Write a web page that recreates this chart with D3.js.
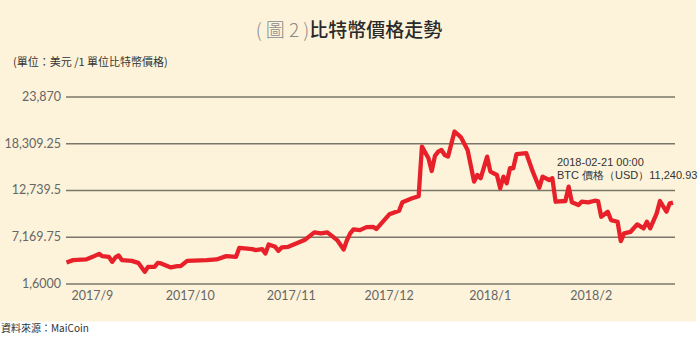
<!DOCTYPE html>
<meta charset='utf-8'>
<html>
  <style>
    body { margin: 0; background: #fff; }
    .title { font-family: "Noto Sans CJK TC", sans-serif; font-size: 19px; }
    .sub { font-family: "Noto Sans CJK TC", sans-serif; font-size: 11px; fill: #333; }
    .axis text { font-family: Lato, sans-serif; font-size: 12.5px; fill: #666; }
    .axis .domain { display: none; }
    .grid line { stroke: #7a776a; stroke-width: 1.6px; }
    .note { font-family: "Liberation Sans", Arial, sans-serif; font-size: 11px; fill: #333; }
  </style>
  <head>
    <script src="https://cdn.jsdelivr.net/npm/d3@7/dist/d3.min.js"></script>
  </head>
  <body>
    <div id="chart"></div>
    <script>
      var dates = ["2017-08-19","2017-08-21","2017-08-25","2017-08-27","2017-08-29","2017-08-30",
        "2017-09-01","2017-09-02","2017-09-03","2017-09-04","2017-09-05","2017-09-08","2017-09-10",
        "2017-09-12","2017-09-13","2017-09-15","2017-09-16","2017-09-17","2017-09-20","2017-09-22",
        "2017-09-23","2017-09-25","2017-10-01","2017-10-04","2017-10-07","2017-10-10","2017-10-11",
        "2017-10-15","2017-10-16","2017-10-18","2017-10-19","2017-10-20","2017-10-22","2017-10-23",
        "2017-10-24","2017-10-26","2017-10-31","2017-11-03","2017-11-05","2017-11-07","2017-11-10",
        "2017-11-12","2017-11-13","2017-11-14","2017-11-15","2017-11-17","2017-11-19","2017-11-21",
        "2017-11-22","2017-11-26","2017-11-29","2017-11-30","2017-12-03","2017-12-05","2017-12-06",
        "2017-12-08","2017-12-09","2017-12-10","2017-12-11","2017-12-12","2017-12-13","2017-12-14",
        "2017-12-16","2017-12-18","2017-12-20","2017-12-22","2017-12-23","2017-12-24","2017-12-26",
        "2017-12-27","2017-12-29","2017-12-30","2017-12-31","2018-01-01","2018-01-02","2018-01-03",
        "2018-01-04","2018-01-07","2018-01-09","2018-01-11","2018-01-12","2018-01-14","2018-01-15",
        "2018-01-16","2018-01-19","2018-01-20","2018-01-21","2018-01-23","2018-01-24","2018-01-26",
        "2018-01-28","2018-01-29","2018-01-30","2018-02-01","2018-02-02","2018-02-04","2018-02-05",
        "2018-02-06","2018-02-08","2018-02-10","2018-02-12","2018-02-13","2018-02-14","2018-02-16",
        "2018-02-17","2018-02-19","2018-02-20","2018-02-21"];
      var prices = [4106,4381,4464,4775,5133,4858,
        4775,4178,4703,4942,4381,4297,4059,
        3000,3581,3581,4059,3987,3510,3665,
        3665,4297,4381,4464,4858,4775,5849,
        5694,5574,5694,5181,6255,5968,5491,
        5897,5968,6768,7687,7568,7687,6768,
        5658,6750,7568,8045,7961,8319,8355,
        8081,9835,10265,11267,11745,12000,17903,
        16519,15000,16800,17300,17500,16900,16710,
        19700,19000,17509,13726,14525,14132,16710,
        14919,14525,12938,14323,13535,15325,15325,
        16996,17115,14919,13010,14323,13929,14132,
        11339,11423,13129,11267,10945,11339,11267,
        11458,11423,9549,10145,9155,8952,6650,
        7568,7758,8642,8164,8952,8164,9955,
        11423,10145,11148,11241];
      var yTicks = [1600, 7169.75, 12739.5, 18309.25, 23870];
      var yLabels = ["1,6000", "7,169.75", "12,739.5", "18,309.25", "23,870"];
      var monthStarts = ["2017-09-01","2017-10-01","2017-11-01","2017-12-01","2018-01-01","2018-02-01"];
      var monthLabels = ["2017/9", "2017/10", "2017/11", "2017/12", "2018/1", "2018/2"];
      var lastLabel = ["2018-02-21 00:00", "BTC 價格（USD）11,240.93"];

      var width = 698, height = 339,
        plot = {left: 66, right: 675, top: 96.5, bottom: 283.5};

      var parse = d3.timeParse("%Y-%m-%d");
      var series = dates.map(function(d, i){ return {date: parse(d), price: prices[i]}; });

      var svg = d3.select("#chart").append("svg")
        .attr("width", width)
        .attr("height", height);

      svg.append("rect")
        .attr("width", 696)
        .attr("height", 321.5)
        .attr("fill", "#fdf3da");

      var x = d3.scaleTime()
        .domain([parse("2017-08-19"), parse("2018-02-21")])
        .range([66.5, 673]);
      var y = d3.scaleLinear()
        .domain([1600, 23870])
        .range([plot.bottom, plot.top]);

      // title
      var title = svg.append("text")
        .attr("class", "title")
        .attr("x", 349)
        .attr("y", 37)
        .attr("text-anchor", "middle");
      title.append("tspan").attr("fill", "#8a8a8a").style("font-weight", 300).text("( 圖 2 )");
      title.append("tspan").attr("fill", "#2a2a2a").style("font-weight", 500).text("比特幣價格走勢");

      svg.append("text")
        .attr("class", "sub")
        .attr("x", 13)
        .attr("y", 66)
        .text("(單位：美元 /1 單位比特幣價格)");

      // grid + y labels
      var yAxis = d3.axisLeft(y)
        .tickValues(yTicks)
        .tickSize(-(plot.right - plot.left))
        .tickPadding(5)
        .tickFormat(function(d, i){ return yLabels[i]; });

      svg.append("g")
        .attr("class", "axis grid")
        .attr("transform", "translate(" + plot.left + ",0)")
        .call(yAxis);

      var xAxis = d3.axisBottom(x)
        .tickValues(monthStarts.map(parse))
        .tickSize(0)
        .tickPadding(8)
        .tickFormat(function(d, i){ return monthLabels[i]; });

      svg.append("g")
        .attr("class", "axis")
        .attr("transform", "translate(0," + plot.bottom + ")")
        .call(xAxis)
        .selectAll("text")
          .attr("dx", -17);

      var line = d3.line()
        .x(function(d){ return x(d.date); })
        .y(function(d){ return y(d.price); });

      svg.append("path")
        .datum(series)
        .attr("fill", "none")
        .attr("stroke", "#e8202a")
        .attr("stroke-width", 4.3)
        .attr("stroke-linejoin", "round")
        .attr("d", line);

      svg.selectAll(".note")
        .data(lastLabel)
        .enter().append("text")
          .attr("class", "note")
          .attr("x", 557)
          .attr("y", function(d, i){ return 166 + i * 12.5; })
          .text(function(d){ return d; });

      svg.append("text")
        .attr("class", "sub")
        .attr("x", 1)
        .attr("y", 332)
        .style("font-size", "10px")
        .text("資料來源：MaiCoin");
    </script>
  </body>
</html>
